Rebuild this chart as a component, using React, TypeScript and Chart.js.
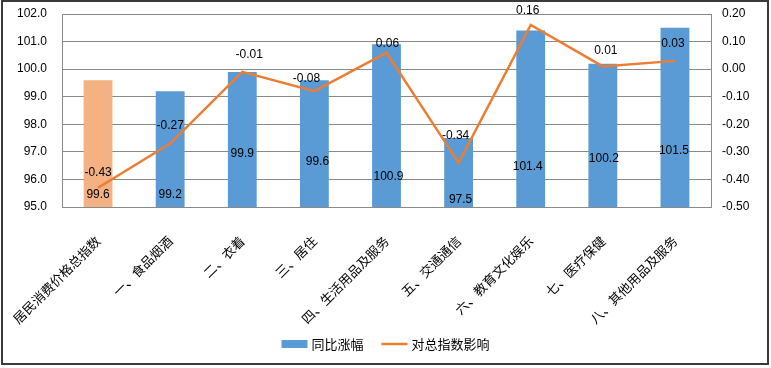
import React, { useEffect, useRef } from "react";
import { Chart, registerables } from "chart.js";

Chart.register(...registerables);

const categories = [
  "居民消费价格总指数",
  "一、食品烟酒",
  "二、衣着",
  "三、居住",
  "四、生活用品及服务",
  "五、交通通信",
  "六、教育文化娱乐",
  "七、医疗保健",
  "八、其他用品及服务",
];
const yoyIndex = [99.6, 99.2, 99.9, 99.6, 100.9, 97.5, 101.4, 100.2, 101.5];
const contribution = [-0.43, -0.27, -0.01, -0.08, 0.06, -0.34, 0.16, 0.01, 0.03];
const leftTicks = [95, 96, 97, 98, 99, 100, 101, 102];
const rightTicks = [-0.5, -0.4, -0.3, -0.2, -0.1, 0, 0.1, 0.2];
const barSeriesName = "同比涨幅";
const lineSeriesName = "对总指数影响";

// label placement (hand-placed labels in the original)
const barLabelAt = [95.45, 95.45, 96.94, 96.65, 96.1, 95.25, 96.47, 96.75, 97.03];
const barLabelDx = [0, 0, 0, 3, 2, 2, -3, 1, -1];
const lineLabelDy = [-15, -18, -17, -12.5, -8.5, -27, -14, -16, -17];
const lineLabelDx = [0, 0, 7, -8, 1, -3, -3, 3, -2];

const BLUE = "#5B9BD5";
const LIGHT_ORANGE = "#F4B183";
const ORANGE = "#ED7D31";
const GRID = "#8a8a8a";
const FONT_LAT = "'Liberation Sans', Arial, sans-serif";
const FONT_CJK = "'Noto Sans CJK SC', sans-serif";

const labelPlugin = {
  id: "labelsAndLegend",
  afterDatasetsDraw(chart: any) {
    const ctx = chart.ctx;
    const x = chart.scales.x;
    const y = chart.scales.y;
    const y1 = chart.scales.y1;
    ctx.save();
    ctx.font = `12px ${FONT_LAT}`;
    ctx.fillStyle = "#000";
    ctx.textAlign = "center";
    ctx.textBaseline = "middle";
    yoyIndex.forEach((v, i) => {
      ctx.fillText(v.toFixed(1), x.getPixelForValue(i) + barLabelDx[i], y.getPixelForValue(barLabelAt[i]));
    });
    contribution.forEach((v, i) => {
      ctx.fillText(v.toFixed(2), x.getPixelForValue(i) + lineLabelDx[i], y1.getPixelForValue(v) + lineLabelDy[i]);
    });
    ctx.restore();

    // legend
    ctx.save();
    ctx.font = `13px ${FONT_CJK}`;
    const w1 = ctx.measureText(barSeriesName).width;
    const w2 = ctx.measureText(lineSeriesName).width;
    const box = 26;
    const gap = 4;
    const sep = 18;
    const total = box + gap + w1 + sep + box + gap + w2;
    let lx = (chart.width - total) / 2;
    const ly = 344;
    ctx.fillStyle = BLUE;
    ctx.fillRect(lx, ly - 4, box, 8);
    lx += box + gap;
    ctx.fillStyle = "#000";
    ctx.textBaseline = "middle";
    ctx.textAlign = "left";
    ctx.fillText(barSeriesName, lx, ly);
    lx += w1 + sep;
    ctx.strokeStyle = ORANGE;
    ctx.lineWidth = 2.5;
    ctx.beginPath();
    ctx.moveTo(lx, ly);
    ctx.lineTo(lx + box, ly);
    ctx.stroke();
    lx += box + gap;
    ctx.fillText(lineSeriesName, lx, ly);
    ctx.restore();
  },
};

export default function App() {
  const ref = useRef<HTMLCanvasElement>(null);
  useEffect(() => {
    if (!ref.current) return;
    const chart = new Chart(ref.current, {
      type: "bar",
      data: {
        labels: categories,
        datasets: [
          {
            type: "line",
            label: lineSeriesName,
            data: contribution,
            yAxisID: "y1",
            borderColor: ORANGE,
            borderWidth: 2.5,
            pointRadius: 0,
            tension: 0,
            order: 0,
          },
          {
            type: "bar",
            label: barSeriesName,
            data: yoyIndex,
            yAxisID: "y",
            backgroundColor: yoyIndex.map((_, i) => (i === 0 ? LIGHT_ORANGE : BLUE)),
            borderWidth: 0,
            barPercentage: 0.4,
            categoryPercentage: 1,
            order: 1,
          },
        ],
      },
      options: {
        animation: false,
        responsive: false,
        layout: { padding: { top: 14, left: 0, right: 0, bottom: 0 } },
        plugins: { legend: { display: false }, tooltip: { enabled: false } },
        scales: {
          x: {
            grid: { display: false, drawTicks: false },
            border: { display: true, color: GRID, width: 1 },
            ticks: {
              minRotation: 45,
              maxRotation: 45,
              padding: 26,
              color: "#000",
              font: { family: FONT_CJK, size: 13 },
              autoSkip: false,
            },
            afterFit: (s: any) => {
              s.height = 161;
              s.paddingLeft = 0;
              s.paddingRight = 0;
            },
          },
          y: {
            position: "left",
            min: 95,
            max: 102,
            grid: { color: GRID, drawTicks: false },
            border: { display: true, color: GRID },
            ticks: {
              stepSize: 1,
              padding: 15,
              color: "#000",
              font: { family: FONT_LAT, size: 12 },
              callback: (v: any) => (leftTicks.includes(Number(v)) ? Number(v).toFixed(1) : ""),
            },
            afterFit: (s: any) => {
              s.width = 62;
              s.paddingTop = 0;
              s.paddingBottom = 0;
            },
          },
          y1: {
            position: "right",
            min: -0.5,
            max: 0.2,
            grid: { display: false, drawTicks: false },
            border: { display: true, color: GRID },
            ticks: {
              stepSize: 0.1,
              padding: 11,
              color: "#000",
              font: { family: FONT_LAT, size: 12 },
              callback: (v: any) => {
                const n = Math.round(Number(v) * 10) / 10;
                return rightTicks.some((t) => Math.abs(t - n) < 1e-9) ? n.toFixed(2) : "";
              },
            },
            afterFit: (s: any) => {
              s.width = 60;
              s.paddingTop = 0;
              s.paddingBottom = 0;
            },
          },
        },
      },
      plugins: [labelPlugin],
    });
    return () => chart.destroy();
  }, []);
  return (
    <div style={{ position: "fixed", left: 0, top: 0, width: 771, height: 368, background: "#fff" }}>
      <canvas ref={ref} width={771} height={368} style={{ display: "block", width: 771, height: 368 }} />
      <div
        style={{
          position: "absolute",
          left: 1,
          top: 0,
          width: 768,
          height: 365,
          boxSizing: "border-box",
          border: "2px solid #3a3a3a",
          pointerEvents: "none",
        }}
      />
    </div>
  );
}
